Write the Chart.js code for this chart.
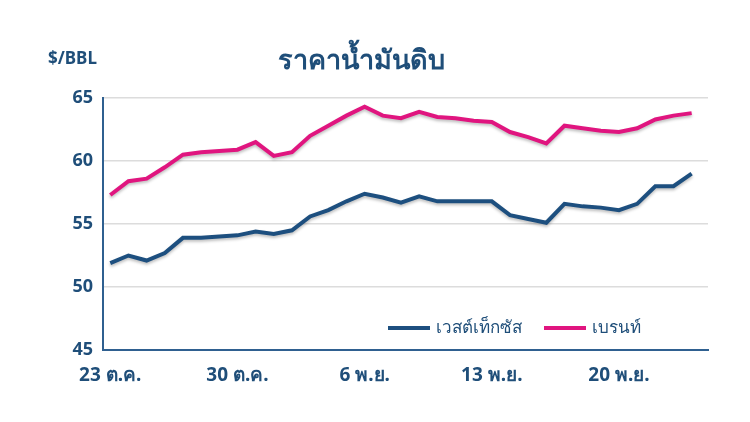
<!DOCTYPE html>
<html><head><meta charset="utf-8">
<script src="https://cdn.jsdelivr.net/npm/chart.js@4/dist/chart.umd.min.js"></script>
<style>
body{margin:0;background:#fff;font-family:"Noto Sans","DejaVu Sans",sans-serif;}
#wrap{position:relative;width:750px;height:422px;}
.t{position:absolute;color:#1f4e79;font-weight:bold;}
#legend{position:absolute;left:388px;top:313px;font-size:17px;color:#1f4e79;display:flex;gap:22px;align-items:center;}
#legend span.sw{display:inline-block;width:42px;height:4px;vertical-align:middle;margin-right:6px;}
</style></head>
<body><div id="wrap">
<canvas id="c" width="750" height="422"></canvas>
<div class="t" style="left:48px;top:46px;font-size:17px;">$/BBL</div>
<div class="t" style="left:278px;top:38px;font-size:27px;">ราคาน้ำมันดิบ</div>
<div id="legend"><div><span class="sw" style="background:#1d4f7f"></span>เวสต์เท็กซัส</div><div><span class="sw" style="background:#e0157f"></span>เบรนท์</div></div>
</div>
<script>
const tickDays = [0, 7, 14, 21, 28];
const tickLabels = ['23 ต.ค.', '30 ต.ค.', '6 พ.ย.', '13 พ.ย.', '20 พ.ย.'];
const brent = [57.3, 58.4, 58.6, 59.5, 60.5, 60.7, 60.8, 60.9, 61.5, 60.4, 60.7, 62.0, 62.8, 63.6, 64.3, 63.6, 63.4,
  63.9, 63.5, 63.4, 63.2, 63.1, 62.3, 61.9, 61.4, 62.8, 62.6, 62.4, 62.3, 62.6, 63.3, 63.6, 63.8];
const wti = [51.9, 52.5, 52.1, 52.7, 53.9, 53.9, 54.0, 54.1, 54.4, 54.2, 54.5, 55.6, 56.1, 56.8, 57.4, 57.1, 56.7,
  57.2, 56.8, 56.8, 56.8, 56.8, 55.7, 55.4, 55.1, 56.6, 56.4, 56.3, 56.1, 56.6, 58.0, 58.0, 59.0];

const toPts = arr => arr.map((v, i) => ({x: i, y: v}));
const shadow = {
  id: 'shadow',
  beforeDatasetsDraw(chart) { const c = chart.ctx; c.save(); c.shadowColor = 'rgba(0,0,0,0.25)'; c.shadowBlur = 3; c.shadowOffsetY = 2; },
  afterDatasetsDraw(chart) { chart.ctx.restore(); }
};

new Chart(document.getElementById('c'), {
  type: 'line',
  data: {datasets: [
    {label: 'เวสต์เท็กซัส', data: toPts(wti), borderColor: '#1d4f7f', borderWidth: 4, pointRadius: 0, tension: 0},
    {label: 'เบรนท์', data: toPts(brent), borderColor: '#e0157f', borderWidth: 4, pointRadius: 0, tension: 0}
  ]},
  plugins: [shadow],
  options: {
    responsive: false, animation: false,
    layout: {padding: {top: 98, right: 42, bottom: 14, left: 0}},
    plugins: {legend: {display: false}, tooltip: {enabled: false}},
    scales: {
      x: {type: 'linear', min: -0.4, max: 32.9,
        afterBuildTicks: s => { s.ticks = tickDays.map(v => ({value: v})); },
        afterFit: s => { s.height = 58; },
        grid: {display: false, drawTicks: true, tickLength: 8, color: '#2f6090'},
        border: {color: '#2f6090', width: 2},
        ticks: {color: '#1f4e79', font: {family: 'Noto Sans', size: 19, weight: 'bold'}, maxRotation: 0, padding: 6,
          callback: v => tickLabels[tickDays.indexOf(v)]}
      },
      y: {min: 45, max: 65,
        afterFit: s => { s.width = 103; },
        grid: {color: '#dcdcdc', lineWidth: 1.5, drawTicks: false},
        border: {color: '#2f6090', width: 2},
        ticks: {stepSize: 5, color: '#1f4e79', padding: 10, font: {family: 'Noto Sans', size: 18, weight: 'bold'}}
      }
    }
  }
});
</script></body></html>
